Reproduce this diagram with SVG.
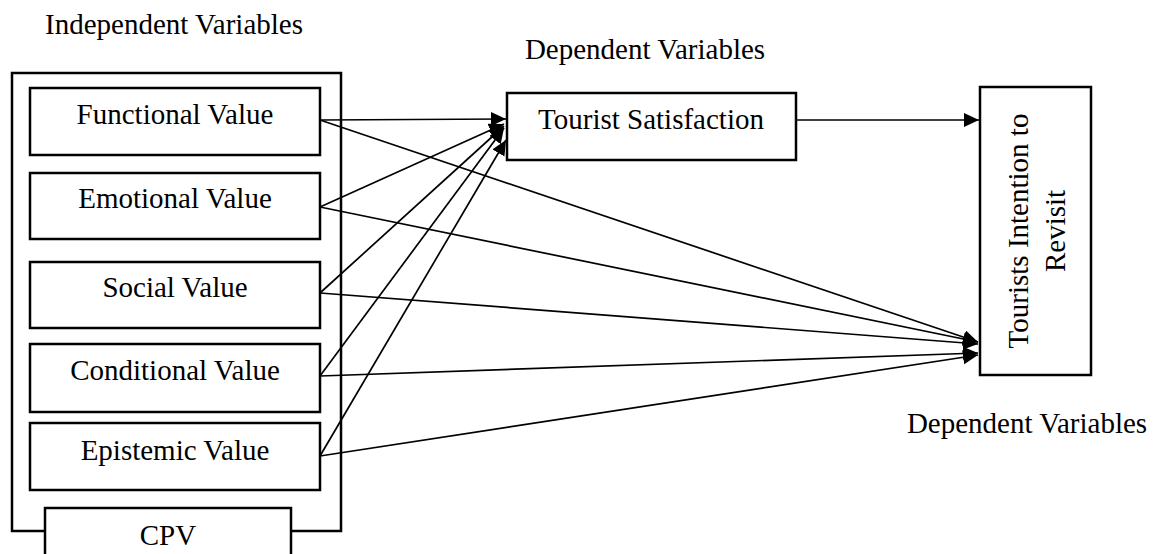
<svg xmlns="http://www.w3.org/2000/svg" width="1159" height="554" viewBox="0 0 1159 554">
  <style>
    .box { fill: #fff; stroke: #000; stroke-width: 2.5; }
    .frame { fill: none; stroke: #000; stroke-width: 2.5; }
    .lbl { font-family: "Liberation Serif", "Times New Roman", serif; font-size: 29px; fill: #000; text-anchor: middle; }
    .conn line { stroke: #000; stroke-width: 1.7; fill: none; marker-end: url(#arrow); }
  </style>
  <defs>
    <marker id="arrow" markerUnits="userSpaceOnUse" markerWidth="16" markerHeight="16" refX="15" refY="7" orient="auto">
      <path d="M0,0 L15,7 L0,14 z" fill="#000"/>
    </marker>
  </defs>

  <rect width="1159" height="554" fill="#fff"/>

  <!-- heading labels -->
  <text class="lbl" x="174" y="34">Independent Variables</text>
  <text class="lbl" x="645" y="59">Dependent Variables</text>
  <text class="lbl" x="1027" y="433">Dependent Variables</text>

  <!-- frame holding the value dimensions -->
  <rect id="cpv-frame" class="frame" x="12" y="73" width="329" height="458"/>

  <g id="functional">
    <rect class="box" x="30" y="88" width="290" height="67"/>
    <text class="lbl" x="175" y="124">Functional Value</text>
  </g>
  <g id="emotional">
    <rect class="box" x="30" y="173" width="290" height="66"/>
    <text class="lbl" x="175" y="208">Emotional Value</text>
  </g>
  <g id="social">
    <rect class="box" x="30" y="262" width="290" height="66"/>
    <text class="lbl" x="175" y="297">Social Value</text>
  </g>
  <g id="conditional">
    <rect class="box" x="30" y="344" width="290" height="68"/>
    <text class="lbl" x="175" y="380">Conditional Value</text>
  </g>
  <g id="epistemic">
    <rect class="box" x="30" y="423" width="290" height="67"/>
    <text class="lbl" x="175" y="460">Epistemic Value</text>
  </g>

  <g id="satisfaction">
    <rect class="box" x="507" y="93" width="289" height="67"/>
    <text class="lbl" x="651" y="129">Tourist Satisfaction</text>
  </g>

  <g id="revisit">
    <rect class="box" x="980" y="87" width="111" height="288"/>
    <text class="lbl" transform="translate(1028,231) rotate(-90)">Tourists Intention to</text>
    <text class="lbl" transform="translate(1065,231) rotate(-90)">Revisit</text>
  </g>

  <!-- connectors -->
  <g id="connectors" class="conn">
    <line x1="320" y1="120" x2="506" y2="119"/>
    <line x1="320" y1="207" x2="504" y2="124"/>
    <line x1="320" y1="293" x2="504" y2="126"/>
    <line x1="320" y1="376" x2="504" y2="128"/>
    <line x1="320" y1="456" x2="506" y2="140"/>

    <line x1="320" y1="120" x2="978" y2="342"/>
    <line x1="320" y1="207" x2="978" y2="342"/>
    <line x1="320" y1="293" x2="978" y2="344"/>
    <line x1="320" y1="376" x2="978" y2="353"/>
    <line x1="320" y1="456" x2="978" y2="355"/>

    <line x1="796" y1="120" x2="979" y2="120"/>
  </g>

  <g id="cpv">
    <rect class="box" x="45" y="508" width="246" height="60"/>
    <text class="lbl" x="168" y="545">CPV</text>
  </g>
</svg>
